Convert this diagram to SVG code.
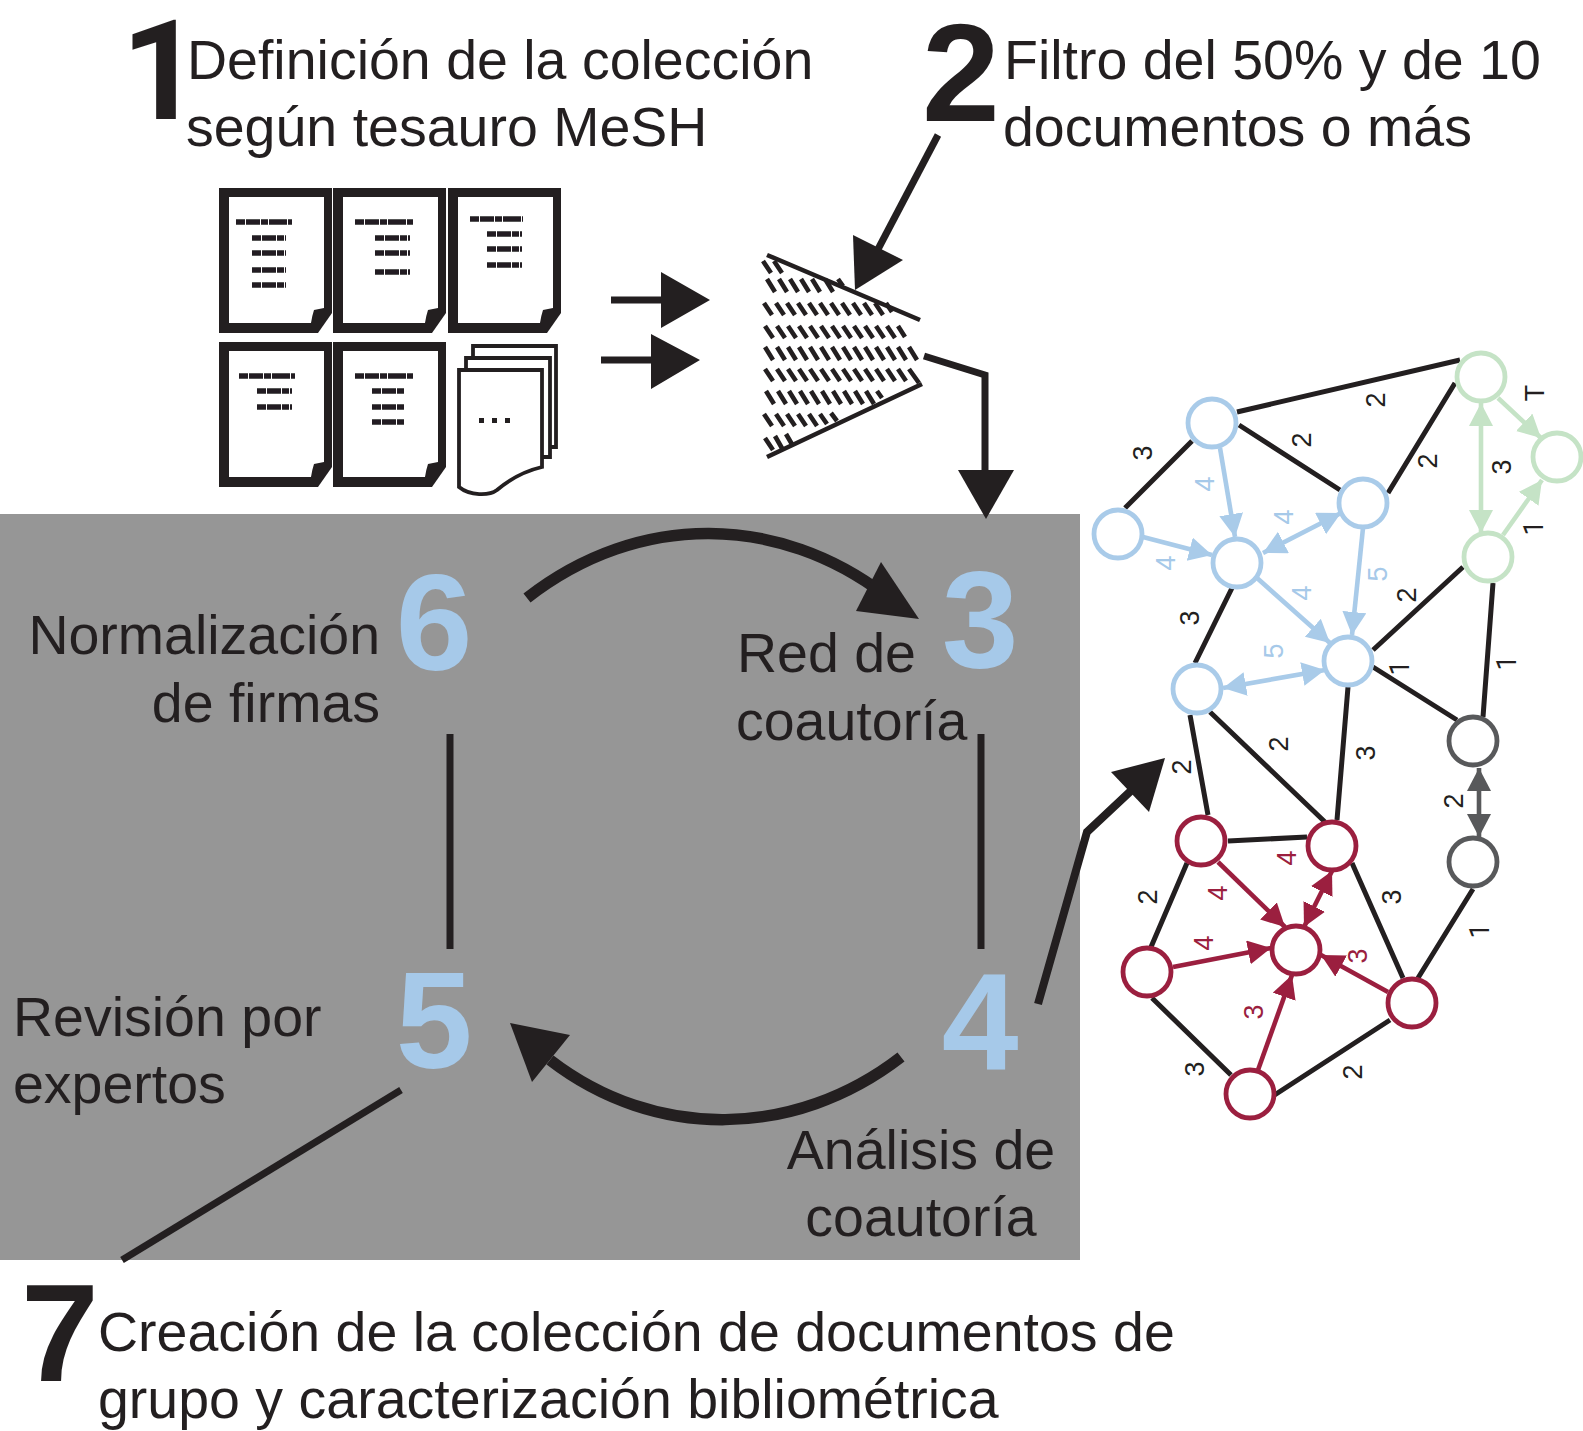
<svg xmlns="http://www.w3.org/2000/svg" xmlns:xlink="http://www.w3.org/1999/xlink" width="1583" height="1431" viewBox="0 0 1583 1431">
<style>
text{font-family:"Liberation Sans",Arial,Helvetica,sans-serif;fill:#231f20}
.lab{font-size:55.5px}
.big{font-size:140px;font-weight:700}
.one{font-family:Roboto,"Liberation Sans",sans-serif}
.num{font-size:138px;font-weight:700;fill:#a6c9e9;text-anchor:middle}
.e{font-size:27px;text-anchor:middle}
.eb{fill:#a6c9e9}.er{fill:#9b1f3f}
.k{stroke:#231f20;fill:none}
.kh{fill:#231f20;stroke:none}
.edge{stroke:#231f20;stroke-width:5;fill:none}
.ba{stroke:#a9cbe9;stroke-width:4.6;fill:none;marker-end:url(#mb)}
.ba2{marker-start:url(#mb)}
.ga{stroke:#c5e3c6;stroke-width:4.6;fill:none;marker-end:url(#mg)}
.ga2{marker-start:url(#mg)}
.ya{stroke:#58595b;stroke-width:4.6;fill:none;marker-end:url(#my);marker-start:url(#my)}
.ra{stroke:#9b1f3f;stroke-width:4.6;fill:none;marker-end:url(#mr)}
.ra2{marker-start:url(#mr)}
.n{fill:#fff;stroke-width:4.8}
.nb{stroke:#a9cbe9}.ng{stroke:#c5e3c6}.ny{stroke:#58595b}.nr{stroke:#9b1f3f}
.sm{stroke:#231f20;stroke-width:5.5;fill:none;stroke-dasharray:9 1 14 1 7 1 18 1;filter:url(#blur)}
.hatch{stroke:#231f20;stroke-width:4.6;fill:none}
</style>
<defs>
<filter id="blur"><feGaussianBlur stdDeviation="0.7"/></filter>
<marker id="mb" markerUnits="userSpaceOnUse" markerWidth="26" markerHeight="26" refX="23" refY="12" orient="auto-start-reverse"><path d="M0 0L23 12L0 24z" fill="#a9cbe9"/></marker>
<marker id="mg" markerUnits="userSpaceOnUse" markerWidth="26" markerHeight="26" refX="23" refY="12" orient="auto-start-reverse"><path d="M0 0L23 12L0 24z" fill="#c5e3c6"/></marker>
<marker id="my" markerUnits="userSpaceOnUse" markerWidth="26" markerHeight="26" refX="23" refY="12" orient="auto-start-reverse"><path d="M0 0L23 12L0 24z" fill="#58595b"/></marker>
<marker id="mr" markerUnits="userSpaceOnUse" markerWidth="26" markerHeight="26" refX="23" refY="12" orient="auto-start-reverse"><path d="M0 0L23 12L0 24z" fill="#9b1f3f"/></marker>
<g id="doc"><path fill="#231f20" d="M0 0H113V125L99 145H0z"/><path fill="#fff" d="M10 9H105V120L95 122Q93 128 92 135H10z"/></g>
</defs>
<rect id="panel" x="0" y="514" width="1080" height="746" fill="#969696"/>
<g id="documents">
<use xlink:href="#doc" href="#doc" x="219" y="188"/>
<use xlink:href="#doc" href="#doc" x="333" y="188"/>
<use xlink:href="#doc" href="#doc" x="448" y="188"/>
<use xlink:href="#doc" href="#doc" x="219" y="342"/>
<use xlink:href="#doc" href="#doc" x="333" y="342"/>
<path class="sm" d="M236 222H292M252 238H286M252 253H286M252 270H286M252 285H286M355 222H413M375 238H410M375 253H410M375 272H410M470 219H523M487 234H522M487 249H522M487 265H522M239 376H295M257 391H292M257 407H292M355 376H413M372 391H405M372 407H405M372 422H405"/>
</g>
<g id="stack">
<path fill="#fff" stroke="#231f20" stroke-width="3.8" d="M473 346H556V447H473z"/>
<path fill="#fff" stroke="#231f20" stroke-width="3.8" d="M466 358H550V457H466z"/>
<path fill="#fff" stroke="#231f20" stroke-width="3.8" d="M459 370H542V467C525 471 510 479 497 490C489 496 470 496 459 487z"/>
<path fill="#231f20" d="M479 418h5v5h-5zM492 418h5v5h-5zM505 418h5v5h-5z"/>
</g>
<g id="filter">
<path class="hatch" d="M763 261l8 12m3 -12l8 12
M767 279l8 13m4 -13l8 13m3 -13l8 13m3 -13l8 13m3 -13l8 13m5 -13l8 13m5 -13l5 7
M764 303l8 12m4 -12l8 12m3 -12l8 12m3 -12l8 12m3 -12l8 12m3 -12l8 12m3 -12l8 12m3 -12l8 12m3 -12l8 12m3 -12l8 12m3 -12l8 12m3 -12l6 9
M765 326l8 12m4 -12l8 12m3 -12l8 12m3 -12l8 12m3 -12l8 12m3 -12l8 12m3 -12l8 12m3 -12l8 12m3 -12l8 12m3 -12l8 12m3 -12l8 12m3 -12l8 12m3 -12l7 11
M765 347l8 13m4 -13l8 13m3 -13l8 13m3 -13l8 13m3 -13l8 13m3 -13l8 13m3 -13l8 13m3 -13l8 13m3 -13l8 13m3 -13l8 13m3 -13l8 13m3 -13l8 13m3 -13l8 13m3 -13l8 13
M765 369l8 12m4 -12l8 12m3 -12l8 12m3 -12l8 12m3 -12l8 12m3 -12l8 12m3 -12l8 12m3 -12l8 12m3 -12l8 12m3 -12l8 12m3 -12l8 12m3 -12l8 12m3 -12l8 12m3 -12l10 14
M766 391l8 13m4 -13l8 13m3 -13l8 13m3 -13l8 13m3 -13l8 13m3 -13l8 13m3 -13l8 13m3 -13l8 13m3 -13l8 13m3 -13l8 13m3 -13l5 7
M764 414l8 12m4 -12l8 12m3 -12l8 12m3 -12l8 12m3 -12l8 12m3 -12l7 10m4 -11l6 8
M765 438l8 12m2 -14l8 14m3 -16l7 12"/>
<path fill="none" stroke="#231f20" stroke-width="4.6" d="M767 255L920 320M922 384L767 457"/>
</g>
<g id="connectors">
<g class="k">
<path stroke-width="7" d="M938 135L875 255"/>
<path stroke-width="7" d="M611 300H665M601 360H655"/>
<path stroke-width="7" fill="none" d="M924 356L985 375V472"/>
<path stroke-width="11.5" d="M527 598C640 510 780 515 885 595"/>
<path stroke-width="11.5" d="M901 1057C795 1139 655 1141 550 1060"/>
<path stroke-width="7" d="M450 734V949M981 734V949"/>
<path stroke-width="8" d="M1038 1004L1087 832L1135 787"/>
<path stroke-width="7" d="M401 1090L122 1260"/>
</g>
<g class="kh">
<path d="M853 235L903 260L855 290z"/>
<path d="M661 272L710 300L661 328zM651 334L700 360L651 389z"/>
<path d="M958 470H1014L986 519z"/>
<path d="M881 562L919 619L856 611z"/>
<path d="M510 1023L570 1035L532 1082z"/>
<path d="M1111 772L1165 758L1149 812z"/>
</g>
<path class="edge" d="M1237 412L1460 360M1455 383L1388 493M1239 425L1340 490M1192 441L1125 508M1232 588L1195 663M1373 650L1463 567M1493 583L1483 717M1373 667L1457 720M1348 687L1337 820M1190 715L1208 815M1210 712L1325 822M1228 841L1307 837M1187 863L1151 947M1152 998L1231 1075M1270 1098L1390 1020M1352 863L1403 978M1418 978L1473 889"/>
<path class="ba" d="M1220 448L1235 537"/>
<path class="ba" d="M1143 537L1212 555"/>
<path class="ba ba2" d="M1263 553L1341 513"/>
<path class="ba" d="M1363 528L1352 635"/>
<path class="ba" d="M1257 578L1330 643"/>
<path class="ba ba2" d="M1223 688L1325 670"/>
<path class="ga ga2" d="M1481 403V533"/>
<path class="ga" d="M1498 398L1541 438"/>
<path class="ga" d="M1503 535L1542 480"/>
<path class="ya" d="M1479 768V837"/>
<path class="ra" d="M1218 862L1285 927"/>
<path class="ra ra2" d="M1332 871L1304 927"/>
<path class="ra" d="M1173 967L1271 948"/>
<path class="ra" d="M1388 992L1321 955"/>
<path class="ra" d="M1258 1070L1292 975"/>
</g>
<g id="nodes">
<circle id="n1" class="n nb" cx="1212" cy="423" r="24"/>
<circle id="n2" class="n nb" cx="1118" cy="534" r="24"/>
<circle id="n3" class="n nb" cx="1237" cy="563" r="24"/>
<circle id="n4" class="n nb" cx="1363" cy="503" r="24"/>
<circle id="n5" class="n nb" cx="1348" cy="661" r="24"/>
<circle id="n6" class="n nb" cx="1197" cy="689" r="24"/>
<circle id="n7" class="n ng" cx="1481" cy="377" r="24"/>
<circle id="n8" class="n ng" cx="1557" cy="457" r="24"/>
<circle id="n9" class="n ng" cx="1488" cy="557" r="24"/>
<circle id="n10" class="n ny" cx="1473" cy="741" r="24"/>
<circle id="n11" class="n ny" cx="1473" cy="862" r="24"/>
<circle id="n12" class="n nr" cx="1201" cy="841" r="24"/>
<circle id="n13" class="n nr" cx="1332" cy="846" r="24"/>
<circle id="n14" class="n nr" cx="1296" cy="950" r="24"/>
<circle id="n15" class="n nr" cx="1147" cy="972" r="24"/>
<circle id="n16" class="n nr" cx="1412" cy="1003" r="24"/>
<circle id="n17" class="n nr" cx="1250" cy="1094" r="24"/>
</g>
<g id="edge-labels">
<text class="e" y="9" transform="translate(1143,453) rotate(-90)">3</text>
<text class="e" y="9" transform="translate(1376,400) rotate(-90)">2</text>
<text class="e" y="9" transform="translate(1302,440) rotate(-90)">2</text>
<text class="e" y="9" transform="translate(1535,393) rotate(-90)">T</text>
<text class="e eb" y="9" transform="translate(1205,484) rotate(-90)">4</text>
<text class="e" y="9" transform="translate(1428,461) rotate(-90)">2</text>
<text class="e" y="9" transform="translate(1502,467) rotate(-90)">3</text>
<text class="e eb" y="9" transform="translate(1284,517) rotate(-90)">4</text>
<text class="e one" y="9" transform="translate(1534,528) rotate(-90)">1</text>
<text class="e eb" y="9" transform="translate(1166,563) rotate(-90)">4</text>
<text class="e eb" y="9" transform="translate(1378,574) rotate(-90)">5</text>
<text class="e" y="9" transform="translate(1407,595) rotate(-90)">2</text>
<text class="e eb" y="9" transform="translate(1302,593) rotate(-90)">4</text>
<text class="e" y="9" transform="translate(1190,618) rotate(-90)">3</text>
<text class="e eb" y="9" transform="translate(1274,651) rotate(-90)">5</text>
<text class="e one" y="9" transform="translate(1400,668) rotate(-90)">1</text>
<text class="e one" y="9" transform="translate(1507,663) rotate(-90)">1</text>
<text class="e" y="9" transform="translate(1182,767) rotate(-90)">2</text>
<text class="e" y="9" transform="translate(1279,744) rotate(-90)">2</text>
<text class="e" y="9" transform="translate(1366,753) rotate(-90)">3</text>
<text class="e" y="9" transform="translate(1454,801) rotate(-90)">2</text>
<text class="e er" y="9" transform="translate(1287,858) rotate(-90)">4</text>
<text class="e" y="9" transform="translate(1148,897) rotate(-90)">2</text>
<text class="e er" y="9" transform="translate(1218,893) rotate(-90)">4</text>
<text class="e" y="9" transform="translate(1392,897) rotate(-90)">3</text>
<text class="e one" y="9" transform="translate(1480,931) rotate(-90)">1</text>
<text class="e er" y="9" transform="translate(1204,943) rotate(-90)">4</text>
<text class="e er" y="9" transform="translate(1358,956) rotate(-90)">3</text>
<text class="e er" y="9" transform="translate(1254,1012) rotate(-90)">3</text>
<text class="e" y="9" transform="translate(1195,1069) rotate(-90)">3</text>
<text class="e" y="9" transform="translate(1353,1072) rotate(-90)">2</text>
</g>
<g id="step1"><text class="big one" x="121" y="119">1</text><text class="lab" x="187" y="79">Definición de la colección</text><text class="lab" x="186" y="146">según tesauro MeSH</text></g>
<g id="step2"><text class="big" x="922" y="121">2</text><text class="lab" x="1004" y="79">Filtro del 50% y de 10</text><text class="lab" x="1003" y="146">documentos o más</text></g>
<g id="step3"><text class="num" x="980" y="667">3</text><text class="lab" x="737" y="672">Red de</text><text class="lab" x="736" y="740">coautoría</text></g>
<g id="step4"><text class="num" x="980" y="1069">4</text><text class="lab" x="921" y="1169" text-anchor="middle">Análisis de</text><text class="lab" x="921" y="1236" text-anchor="middle">coautoría</text></g>
<g id="step5"><text class="num" x="434" y="1068">5</text><text class="lab" x="13" y="1036">Revisión por</text><text class="lab" x="13" y="1103">expertos</text></g>
<g id="step6"><text class="num" x="434" y="670">6</text><text class="lab" x="380" y="654" text-anchor="end">Normalización</text><text class="lab" x="380" y="722" text-anchor="end">de firmas</text></g>
<g id="step7"><text class="big" x="21" y="1381">7</text><text class="lab" x="98" y="1351">Creación de la colección de documentos de</text><text class="lab" x="98" y="1418">grupo y caracterización bibliométrica</text></g>
</svg>
